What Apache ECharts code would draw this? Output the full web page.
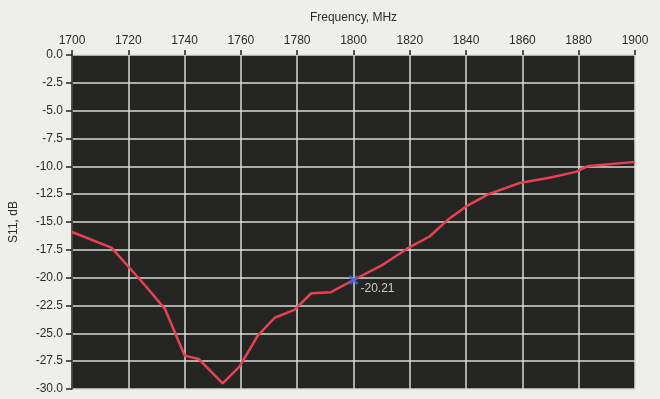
<!DOCTYPE html>
<html>
<head>
<meta charset="utf-8">
<script src="https://cdn.jsdelivr.net/npm/echarts@6/dist/echarts.min.js"></script>
<style>
html,body{margin:0;padding:0;background:#eeeeec;}
#c{width:660px;height:399px;}
</style>
</head>
<body>
<div id="c"></div>
<script>
// Data
const freqMHz = [1700, 1714, 1720, 1726, 1733, 1740, 1745, 1753.5, 1759.5, 1766, 1772, 1779, 1785, 1792, 1800, 1810, 1819, 1827, 1834, 1840, 1848, 1859, 1870, 1879, 1883, 1900];
const s11dB   = [-15.9, -17.3, -19.0, -20.7, -22.8, -27.0, -27.3, -29.5, -28.0, -25.2, -23.6, -22.9, -21.4, -21.3, -20.21, -18.9, -17.4, -16.3, -14.7, -13.6, -12.5, -11.5, -11.0, -10.5, -10.0, -9.6];
const markerFreq = [1800];
const markerValue = [-20.21];
const markerLabel = ['-20.21'];
const xTitle = 'Frequency, MHz';
const yTitle = 'S11, dB';

const chart = echarts.init(document.getElementById('c'), null, {renderer: 'canvas'});
const txt = '#2b2b2b';
chart.setOption({
  backgroundColor: '#eeeeec',
  animation: false,
  grid: {left: 70, right: 25, top: 55, bottom: 10, show: true, backgroundColor: '#252523', borderWidth: 0},
  xAxis: {
    type: 'value', position: 'top', min: 1700, max: 1900, interval: 20,
    name: xTitle, nameLocation: 'middle', nameGap: 31,
    nameTextStyle: {color: txt, fontSize: 12, fontFamily: 'Liberation Sans'},
    axisLine: {show: false},
    axisTick: {show: true, length: 5, lineStyle: {color: '#222', width: 1.5}},
    axisLabel: {color: txt, fontSize: 12, fontFamily: 'Liberation Sans', margin: 8,
      formatter: v => String(v)},
    splitLine: {show: true, lineStyle: {color: '#d9d9d6', width: 1.5}}
  },
  yAxis: {
    type: 'value', min: -30, max: 0, interval: 2.5,
    name: yTitle, nameLocation: 'middle', nameGap: 52, nameRotate: 90,
    nameTextStyle: {color: txt, fontSize: 12, fontFamily: 'Liberation Sans'},
    axisLine: {show: true, lineStyle: {color: '#222', width: 1.5}},
    axisTick: {show: true, length: 6, lineStyle: {color: '#222', width: 1.5}},
    axisLabel: {color: txt, fontSize: 12, fontFamily: 'Liberation Sans', margin: 9,
      formatter: v => v.toFixed(1)},
    splitLine: {show: true, lineStyle: {color: '#d9d9d6', width: 1.5}}
  },
  series: [
    {
      type: 'line', data: freqMHz.map((f, i) => [f, s11dB[i]]),
      showSymbol: false, symbol: 'none',
      lineStyle: {color: '#e8424e', width: 2.5}, z: 3
    },
    {
      type: 'scatter', data: markerFreq.map((f, i) => [f, markerValue[i]]),
      symbol: 'path://M0,2L2,0L5,3L8,0L10,2L7,5L10,8L8,10L5,7L2,10L0,8L3,5Z',
      symbolSize: 10,
      itemStyle: {color: '#3d63e6'},
      label: {show: true, position: 'right', offset: [-3, 9],
        formatter: p => markerLabel[p.dataIndex],
        color: '#f2f2f2', fontSize: 12, fontFamily: 'Liberation Sans'},
      z: 4
    }
  ]
});
</script>
</body>
</html>
